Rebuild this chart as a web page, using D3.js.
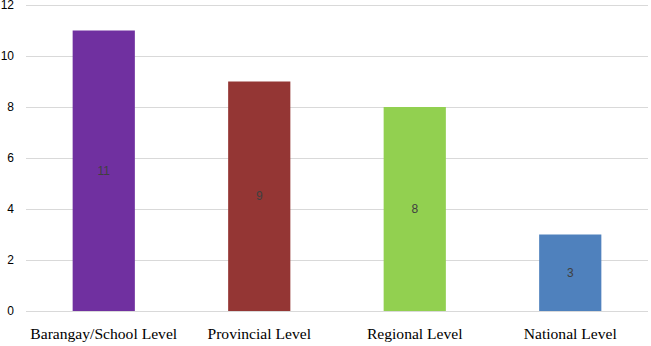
<!DOCTYPE html>
<html>
<head>
<meta charset="utf-8">
<script src="https://cdn.jsdelivr.net/npm/d3@7"></script>
<style>
  body { margin: 0; background: #fff; }
</style>
</head>
<body>
<div id="chart"></div>
<script>
// chart data
const categories = ["Barangay/School Level", "Provincial Level", "Regional Level", "National Level"];
const values = [11, 9, 8, 3];
const barColors = ["#7030A0", "#943634", "#92D050", "#4F81BD"];
const yTicks = [0, 2, 4, 6, 8, 10, 12];

const width = 651, height = 346;
const margin = { top: 5, right: 3, bottom: 35, left: 26 };

const svg = d3.select("#chart").append("svg")
    .attr("width", width)
    .attr("height", height);

const x = d3.scaleBand()
    .domain(categories)
    .range([margin.left, width - margin.right])
    .paddingInner(0.6)
    .paddingOuter(0.3);

const y = d3.scaleLinear()
    .domain([0, 12])
    .range([height - margin.bottom, margin.top]);

// gridlines
svg.append("g")
    .selectAll("line")
    .data(yTicks)
    .join("line")
    .attr("x1", margin.left)
    .attr("x2", width - margin.right)
    .attr("y1", d => Math.round(y(d)) + 0.5)
    .attr("y2", d => Math.round(y(d)) + 0.5)
    .attr("stroke", "#d9d9d9")
    .attr("stroke-width", 1);

// y tick labels
svg.append("g")
    .selectAll("text")
    .data(yTicks)
    .join("text")
    .attr("x", 14)
    .attr("y", d => y(d))
    .attr("dy", "0.35em")
    .attr("text-anchor", "end")
    .attr("font-family", "Liberation Sans, Arial, sans-serif")
    .attr("font-size", 12)
    .attr("fill", "#000")
    .text(d => d);

const data = categories.map((c, i) => ({ cat: c, value: values[i], color: barColors[i] }));

// bars
svg.append("g")
    .selectAll("rect")
    .data(data)
    .join("rect")
    .attr("x", d => x(d.cat))
    .attr("y", d => y(d.value))
    .attr("width", x.bandwidth())
    .attr("height", d => y(0) - y(d.value))
    .attr("fill", d => d.color);

// value labels
svg.append("g")
    .selectAll("text")
    .data(data)
    .join("text")
    .attr("x", d => x(d.cat) + x.bandwidth() / 2)
    .attr("y", d => (y(d.value) + y(0)) / 2)
    .attr("dy", "0.35em")
    .attr("text-anchor", "middle")
    .attr("font-family", "Liberation Sans, Arial, sans-serif")
    .attr("font-size", 12)
    .attr("fill", "#404040")
    .text(d => d.value);

// category labels
svg.append("g")
    .selectAll("text")
    .data(categories)
    .join("text")
    .attr("x", d => x(d) + x.bandwidth() / 2)
    .attr("y", 339)
    .attr("text-anchor", "middle")
    .attr("font-family", "Liberation Serif, Times New Roman, serif")
    .attr("font-size", 15.6)
    .attr("fill", "#000")
    .text(d => d);
</script>
</body>
</html>
